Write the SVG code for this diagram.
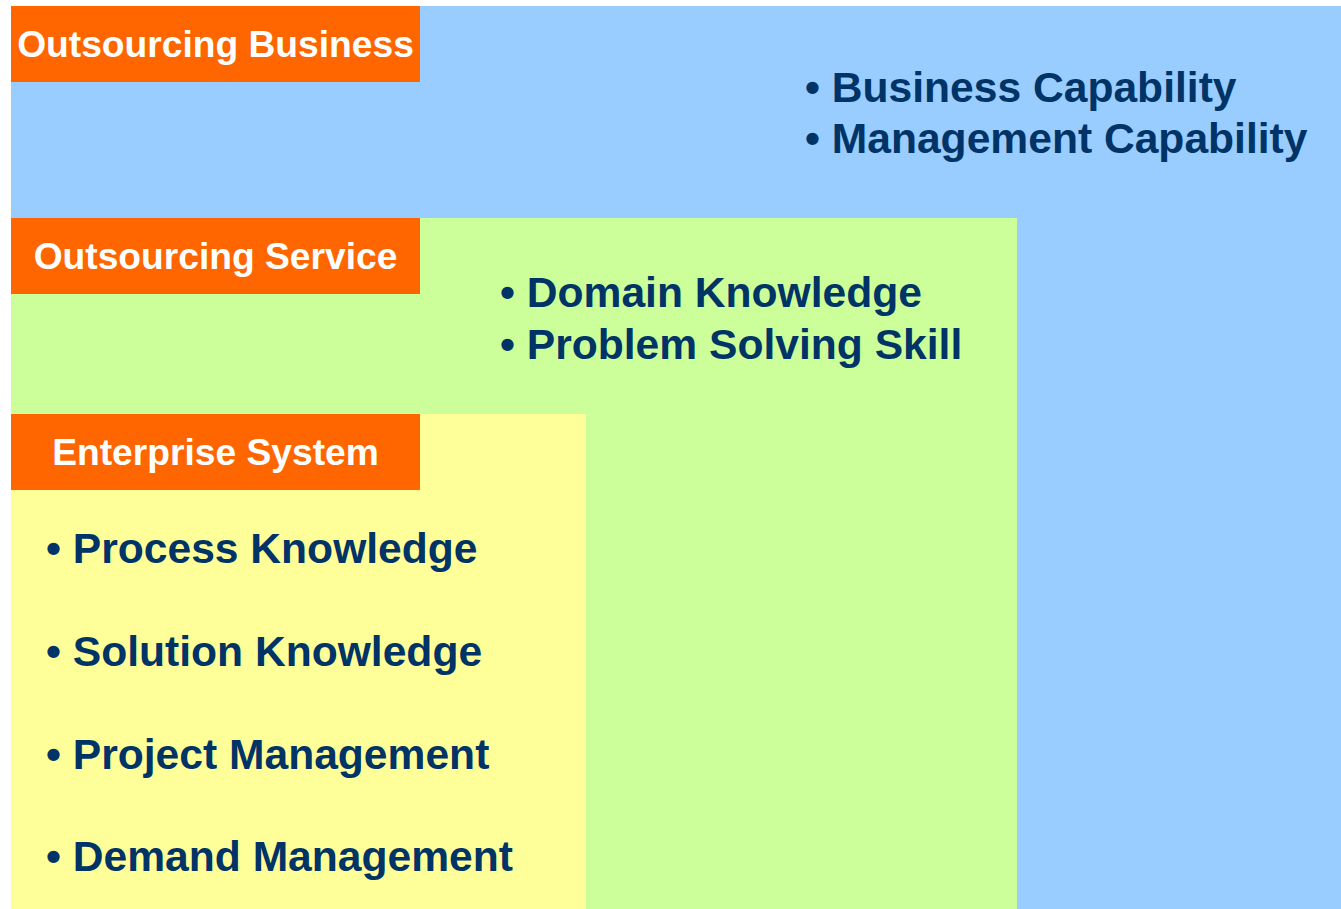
<svg xmlns="http://www.w3.org/2000/svg" width="1341" height="909" viewBox="0 0 1341 909">
<style>
.lbl{font-family:"Liberation Sans",Arial,sans-serif;font-weight:bold;font-size:37.2px;fill:#ffffff;text-anchor:middle}
.bul{font-family:"Liberation Sans",Arial,sans-serif;font-weight:bold;font-size:42.6px;fill:#003366}
.tab{fill:#ff6600}
</style>
<rect width="1341" height="909" fill="#ffffff"/>
<g id="outsourcing-business">
<rect x="11" y="6" width="1330" height="903" fill="#99ccff"/>
<rect class="tab" x="11" y="6" width="409" height="76"/>
<text class="lbl" x="215.5" y="57">Outsourcing Business</text>
<text class="bul" x="805" y="102">• Business Capability</text>
<text class="bul" x="805" y="153">• Management Capability</text>
</g>
<g id="outsourcing-service">
<rect x="11" y="218" width="1006" height="691" fill="#ccff99"/>
<rect class="tab" x="11" y="218" width="409" height="76"/>
<text class="lbl" x="215.5" y="269">Outsourcing Service</text>
<text class="bul" x="500" y="307">• Domain Knowledge</text>
<text class="bul" x="500" y="359">• Problem Solving Skill</text>
</g>
<g id="enterprise-system">
<rect x="11" y="414" width="575" height="495" fill="#ffff99"/>
<rect class="tab" x="11" y="414" width="409" height="76"/>
<text class="lbl" x="215.5" y="465">Enterprise System</text>
<text class="bul" x="46" y="563">• Process Knowledge</text>
<text class="bul" x="46" y="666">• Solution Knowledge</text>
<text class="bul" x="46" y="769">• Project Management</text>
<text class="bul" x="46" y="871">• Demand Management</text>
</g>
<g id="connectors"></g>
</svg>
